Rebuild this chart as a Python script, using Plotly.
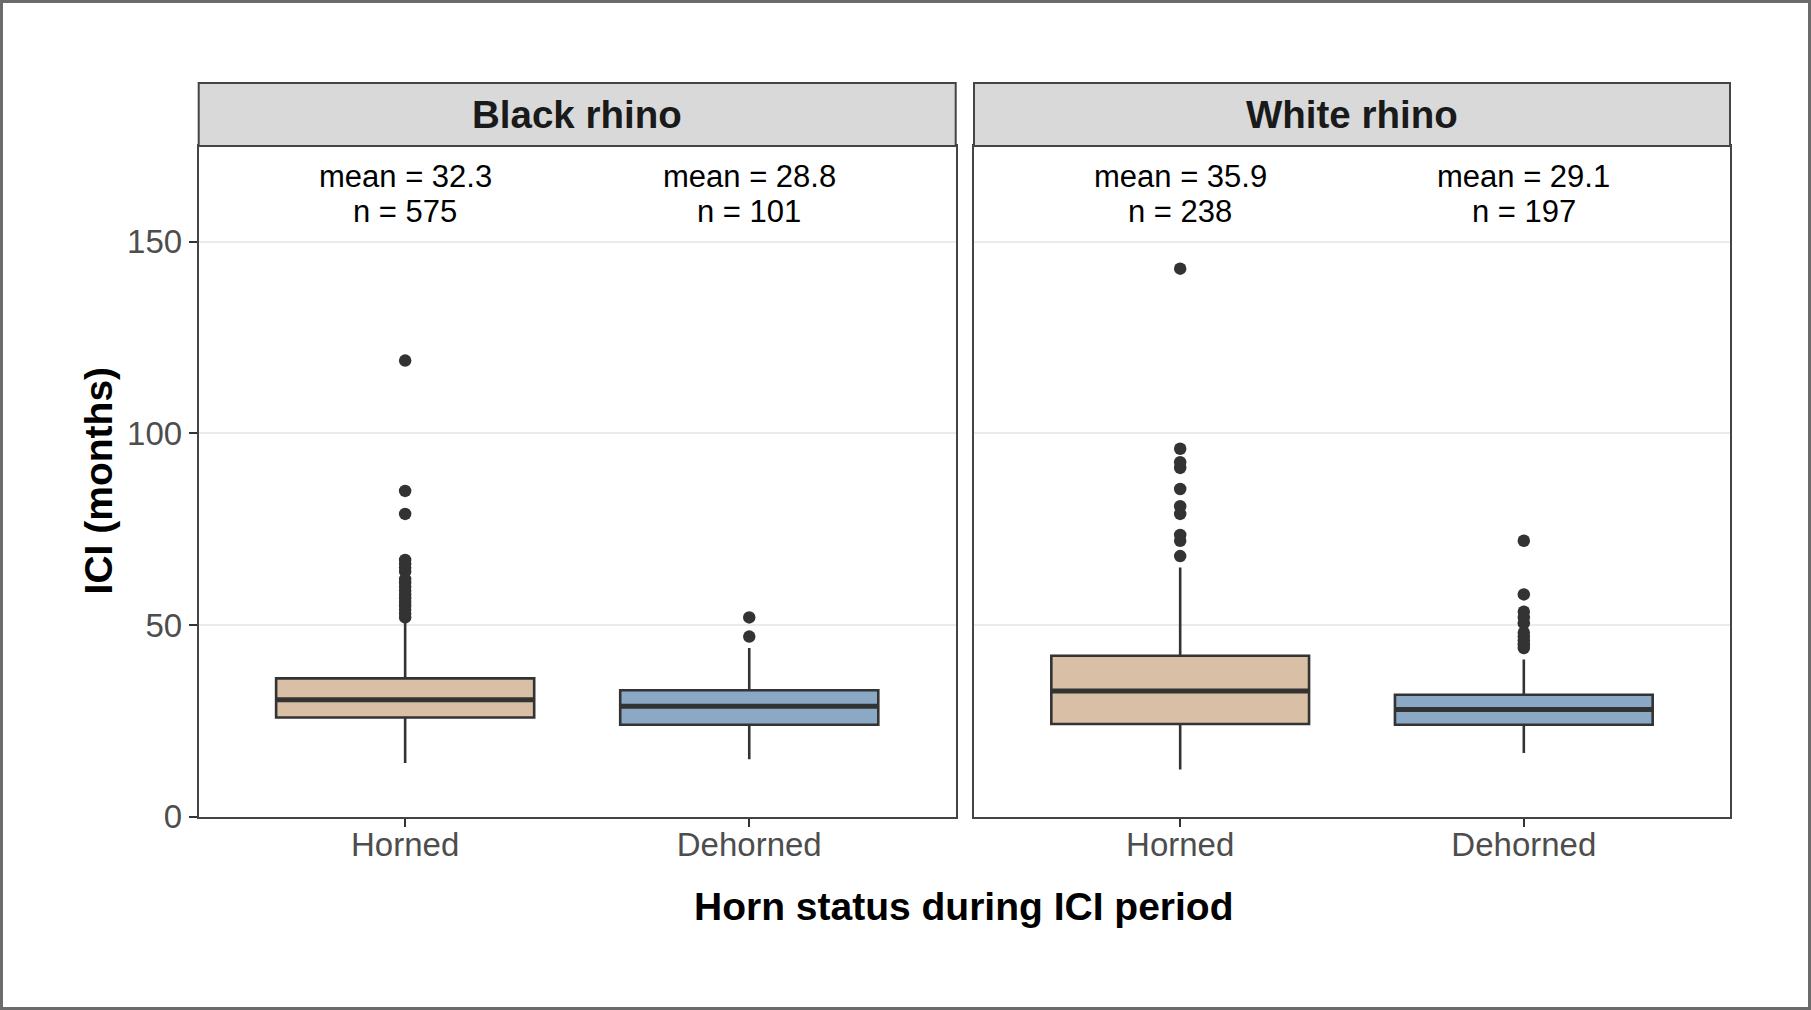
import plotly.graph_objects as go

# ---------------- data ----------------
species = ["Black rhino", "White rhino"]
statuses = ["Horned", "Dehorned"]

# box statistics, [species][status]
box_lower = [[14.0, 15.0], [12.3, 16.6]]
box_q1 = [[25.9, 24.0], [24.2, 24.0]]
box_median = [[30.5, 28.8], [32.8, 28.0]]
box_q3 = [[36.1, 33.0], [42.0, 31.8]]
box_upper = [[51.0, 44.0], [65.0, 41.0]]

means = [[32.3, 28.8], [35.9, 29.1]]
counts = [[575, 101], [238, 197]]

outliers_black_horned = [52, 53, 54, 55, 56, 57, 58, 59, 60, 61, 62, 64, 65, 66, 67, 79, 85, 119]
outliers_black_dehorned = [47, 52]
outliers_white_horned = [68, 72, 73.5, 79, 81, 85.5, 91, 92.5, 96, 143]
outliers_white_dehorned = [44, 45, 46, 47, 48, 50.5, 52, 53.5, 58, 72]
outliers = [[outliers_black_horned, outliers_black_dehorned],
            [outliers_white_horned, outliers_white_dehorned]]

y_ticks = [0, 50, 100, 150]

# ---------------- style ----------------
W, H = 1811, 1010
FONT = "Liberation Sans, Arial, Helvetica, sans-serif"
fills = {"Horned": "#D8BFA6", "Dehorned": "#8BA8C4"}
DARK = "#333333"
BOX_W = 0.75

def px(x):
    return x / W

def py(y):
    return 1 - y / H

panel_x = [(198.7, 955.7), (974.0, 1730.0)]
panel_top, panel_bottom = 146.0, 816.7
strip_top = 83.0

fig = go.Figure()

for s, sp in enumerate(species):
    xa = "x" if s == 0 else "x2"
    ya = "y" if s == 0 else "y2"
    for k, st in enumerate(statuses):
        fig.add_trace(go.Box(
            x=[k], q1=[box_q1[s][k]], median=[box_median[s][k]], q3=[box_q3[s][k]],
            lowerfence=[box_lower[s][k]], upperfence=[box_upper[s][k]],
            width=BOX_W, fillcolor=fills[st], line=dict(color=DARK, width=2.6),
            whiskerwidth=0, boxpoints=False, showlegend=False, hoverinfo="skip",
            xaxis=xa, yaxis=ya))
        # thick median line (ggplot fatten)
        fig.add_trace(go.Scatter(
            x=[k - BOX_W / 2, k + BOX_W / 2], y=[box_median[s][k]] * 2,
            mode="lines", line=dict(color=DARK, width=5), showlegend=False,
            hoverinfo="skip", xaxis=xa, yaxis=ya))
        fig.add_trace(go.Scatter(
            x=[k] * len(outliers[s][k]), y=outliers[s][k], mode="markers",
            marker=dict(color=DARK, size=12.5, line=dict(width=0)),
            showlegend=False, hoverinfo="skip", xaxis=xa, yaxis=ya))
        fig.add_annotation(x=k, xref=xa, y=py(176.7), yref="paper",
                           text=f"mean = {means[s][k]}", showarrow=False,
                           font=dict(family=FONT, size=31, color="#000000"),
                           xanchor="center", yanchor="middle")
        fig.add_annotation(x=k, xref=xa, y=py(211.4), yref="paper",
                           text=f"n = {counts[s][k]}", showarrow=False,
                           font=dict(family=FONT, size=31, color="#000000"),
                           xanchor="center", yanchor="middle")

    # strip
    x0, x1 = panel_x[s]
    fig.add_shape(type="rect", xref="paper", yref="paper",
                  x0=px(x0), x1=px(x1), y0=py(panel_top), y1=py(strip_top),
                  fillcolor="#D9D9D9", line=dict(color="#444444", width=2), layer="above")
    fig.add_annotation(x=px((x0 + x1) / 2), xref="paper", y=py((strip_top + panel_top) / 2),
                       yref="paper", text=f"<b>{sp}</b>", showarrow=False,
                       font=dict(family=FONT, size=38.5, color="#1A1A1A"),
                       xanchor="center", yanchor="middle")

axis_common = dict(showline=True, mirror=True, linecolor="#444444", linewidth=2,
                   zeroline=False, automargin=False)
xcommon = dict(axis_common, range=[-0.6, 1.6], tickvals=[0, 1], ticktext=statuses,
               ticks="outside", ticklen=8, tickwidth=2, tickcolor=DARK,
               ticklabelstandoff=-10,
               showgrid=False, tickfont=dict(family=FONT, size=33, color="#4D4D4D"))
ycommon = dict(axis_common, range=[0, 175], tickvals=y_ticks, showgrid=True,
               gridcolor="#EBEBEB", gridwidth=2)

fig.update_layout(
    width=W, height=H, autosize=False,
    margin=dict(l=0, r=0, t=0, b=0, pad=0, autoexpand=False),
    paper_bgcolor="white", plot_bgcolor="white",
    font=dict(family=FONT),
    showlegend=False,
    xaxis=dict(xcommon, domain=[px(panel_x[0][0]), px(panel_x[0][1])], anchor="y"),
    xaxis2=dict(xcommon, domain=[px(panel_x[1][0]), px(panel_x[1][1])], anchor="y2"),
    yaxis=dict(ycommon, domain=[py(panel_bottom), py(panel_top)], anchor="x",
               ticks="outside", ticklen=8, tickwidth=2, tickcolor=DARK,
               tickfont=dict(family=FONT, size=33, color="#4D4D4D")),
    yaxis2=dict(ycommon, domain=[py(panel_bottom), py(panel_top)], anchor="x2",
                showticklabels=False, ticks=""),
)

# axis titles
fig.add_annotation(x=px(964.4), y=py(906.7), xref="paper", yref="paper",
                   text="<b>Horn status during ICI period</b>", showarrow=False,
                   font=dict(family=FONT, size=39, color="#000000"),
                   xanchor="center", yanchor="middle")
fig.add_annotation(x=px(98), y=py(481.4), xref="paper", yref="paper",
                   text="<b>ICI (months)</b>", showarrow=False, textangle=-90,
                   font=dict(family=FONT, size=39, color="#000000"),
                   xanchor="center", yanchor="middle")

# outer frame
fig.add_shape(type="rect", xref="paper", yref="paper", x0=px(1.5), x1=px(W - 1.5),
              y0=py(H - 1.5), y1=py(1.5), line=dict(color="#6B6B6B", width=3),
              fillcolor="rgba(0,0,0,0)", layer="above")

fig.write_html(
    "out.html",
    config={"displayModeBar": False},
    post_script="document.body.style.margin='0';document.body.style.overflow='hidden';",
)
